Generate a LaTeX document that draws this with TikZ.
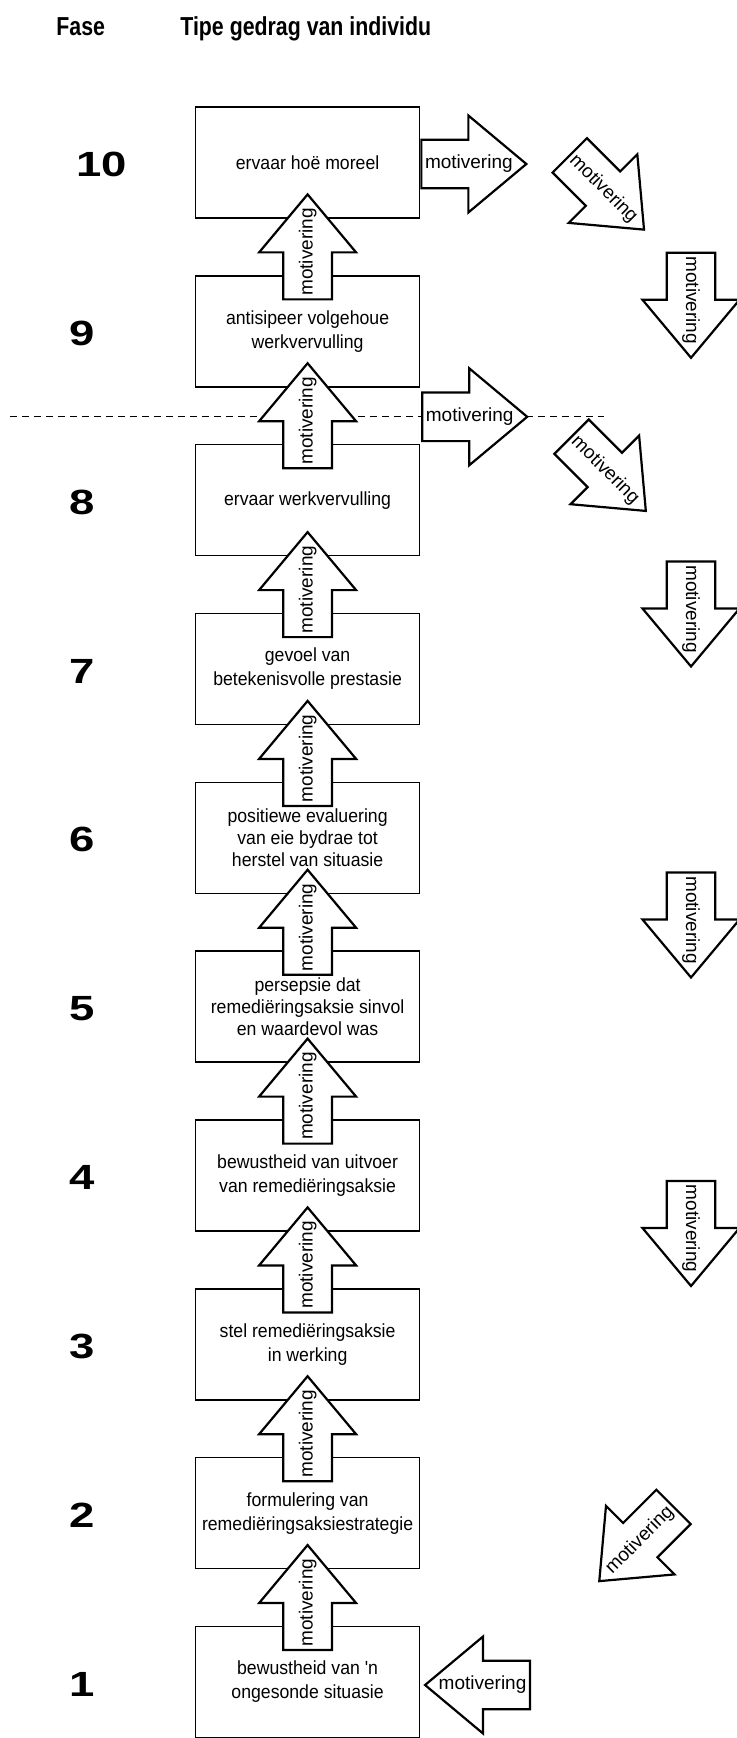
\documentclass[tikz,border=0pt]{standalone}
\usepackage{fontspec}
\usetikzlibrary{calc}

\newfontfamily\boxfont[FakeStretch=0.93]{Liberation Sans}
\newfontfamily\arrowfont{Liberation Sans}
\newfontfamily\headfont[FakeStretch=0.82]{Liberation Sans}
\newfontfamily\numfont[FakeStretch=1.3]{Liberation Sans}

\tikzset{
  stagebox/.style={draw, line width=0.75pt, fill=white, minimum width=112pt,
    minimum height=55.5pt, inner sep=0pt, align=center,
    font=\boxfont\fontsize{9.5pt}{12pt}\selectfont},
  threeline/.style={font=\boxfont\fontsize{9.5pt}{10.8pt}\selectfont},
  fasenum/.style={anchor=west, inner sep=0pt,
    font=\numfont\bfseries\fontsize{17.5pt}{17.5pt}\selectfont},
  heading/.style={anchor=base west, inner sep=0pt,
    font=\headfont\bfseries\fontsize{13pt}{13pt}\selectfont},
  blockarrow/.style={draw, line width=1.1pt, fill=white, line join=miter},
  arrowlabel/.style={inner sep=0pt, font=\arrowfont\fontsize{9.5pt}{9.5pt}\selectfont},
  divider/.style={dash pattern=on 3.5pt off 2.5pt, line width=0.5pt},
}

% block arrow labelled "motivering":
% #1 name, #2 centre, #3 pointing direction, #4 label rotation
\newcommand\motivarrow[4]{%
  \begin{scope}[shift={#2}, rotate=#3]
    \draw[blockarrow] (-52.5,-24.3) -- (-5.5,-24.3) -- (-5.5,-48.5) -- (52.5,0)
      -- (-5.5,48.5) -- (-5.5,24.3) -- (-52.5,24.3) -- cycle;
    \coordinate (#1-c) at (-5,0);
  \end{scope}
  \node[arrowlabel, rotate=#4] (#1) at (#1-c) {motivering};
}

\begin{document}
\begin{tikzpicture}[x=0.5pt, y=-0.5pt]
\useasboundingbox (0,0) rectangle (737,1738);

% column headings
\node[heading] (hfase) at (56,36) {Fase};
\node[heading] (htipe) at (180,36) {Tipe gedrag van individu};

% dashed division between phase 9 and phase 8
\coordinate (dl) at (10,416);
\coordinate (dr) at (604,416);
\draw[divider] (dl) -- (dr);

% stages
\node[stagebox] (b10) at (307.6,162.5) {ervaar hoë moreel};
\node[stagebox] (b9) at (307.6,331.3) {antisipeer volgehoue\\werkvervulling};
\node[stagebox] (b8) at (307.6,500.2) {ervaar werkvervulling};
\node[stagebox] (b7) at (307.6,669.0) {gevoel van\\betekenisvolle prestasie};
\node[stagebox, threeline] (b6) at (307.6,837.8) {positiewe evaluering\\van eie bydrae tot\\herstel van situasie};
\node[stagebox, threeline] (b5) at (307.6,1006.7) {persepsie dat\\remediëringsaksie sinvol\\en waardevol was};
\node[stagebox] (b4) at (307.6,1175.5) {bewustheid van uitvoer\\van remediëringsaksie};
\node[stagebox] (b3) at (307.6,1344.3) {stel remediëringsaksie\\in werking};
\node[stagebox] (b2) at (307.6,1513.1) {formulering van\\remediëringsaksiestrategie};
\node[stagebox] (b1) at (307.6,1682.0) {bewustheid van 'n\\ongesonde situasie};

% phase numbers
\node[fasenum] (f10) at (76,164.5) {10};
\node[fasenum] (f9) at (69,333.3) {9};
\node[fasenum] (f8) at (69,502.2) {8};
\node[fasenum] (f7) at (69,671.0) {7};
\node[fasenum] (f6) at (69,839.8) {6};
\node[fasenum] (f5) at (69,1008.7) {5};
\node[fasenum] (f4) at (69,1177.5) {4};
\node[fasenum] (f3) at (69,1346.3) {3};
\node[fasenum] (f2) at (69,1515.1) {2};
\node[fasenum] (f1) at (69,1684.0) {1};

% upward motivation between successive stages
\foreach \k [evaluate=\k as \j using int(\k+1)] in {1,...,9} {
  \motivarrow{up\k}{($(b\k)!0.5!(b\j)$)}{90}{90}
}

% motivation arriving from and leaving to the side
\motivarrow{rten}{($(b10.east)+(53.5,1.5)$)}{0}{0}
\motivarrow{rnine}{(474.7,416.8)}{0}{0}
\motivarrow{drten}{(606.9,192.5)}{-45}{-45}
\motivarrow{dreight}{(608.7,473.8)}{-45}{-45}
\motivarrow{da}{(691,305.3)}{-90}{-90}
\motivarrow{db}{(691,614)}{-90}{-90}
\motivarrow{dc}{(691,925)}{-90}{-90}
\motivarrow{dd}{(691,1233.5)}{-90}{-90}
\motivarrow{dltwo}{(636.4,1544)}{-135}{45}
\motivarrow{lone}{($(b1.east)+(57.2,3)$)}{180}{0}
\end{tikzpicture}
\end{document}
